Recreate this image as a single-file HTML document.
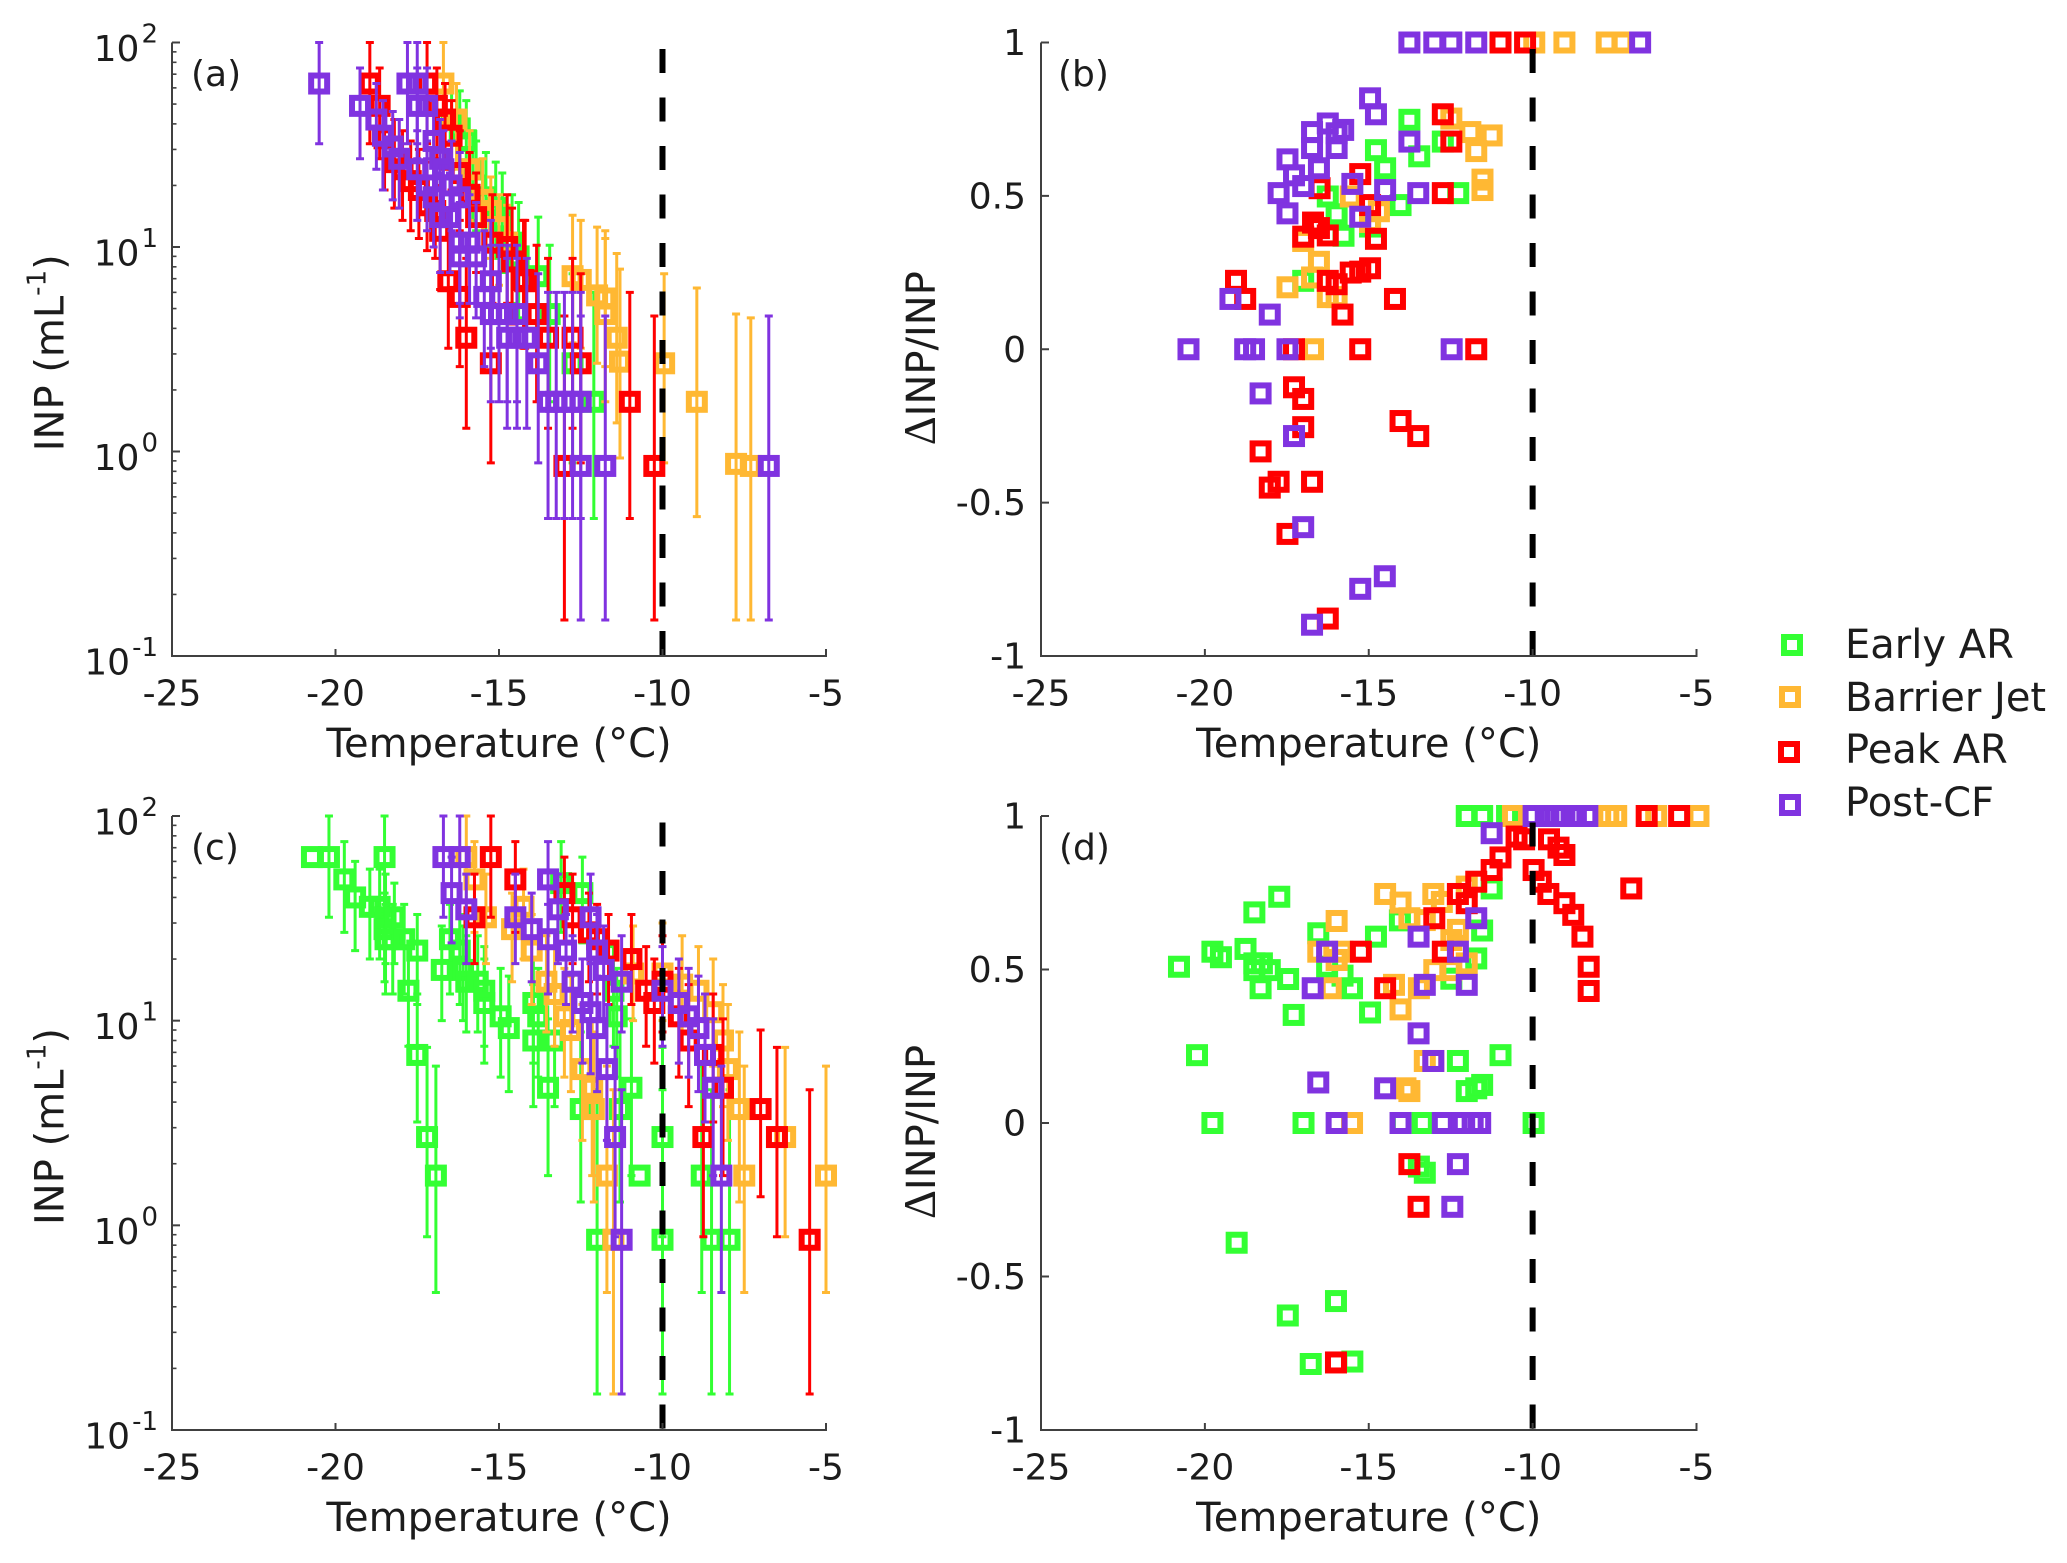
<!DOCTYPE html>
<html lang="en">
<head>
<meta charset="utf-8">
<title>INP versus temperature</title>
<style>
html,body{margin:0;padding:0;background:#fff;}
body{width:2067px;height:1563px;overflow:hidden;}
svg{display:block;}
text{font-family:"DejaVu Sans","Liberation Sans",sans-serif;fill:#1c1c1c;}
</style>
</head>
<body>
<svg id="chart" xmlns="http://www.w3.org/2000/svg" width="2067" height="1563" viewBox="0 0 2067 1563"></svg>
<script>
/* ---------- shared axis data ---------- */
const xTickValues = [-25, -20, -15, -10, -5];
const logTickExponents = [-1, 0, 1, 2];
const logMinorMultipliers = [2, 3, 4, 5, 6, 7, 8, 9];
const ratioTickValues = [-1, -0.5, 0, 0.5, 1];
const ratioTickLabels = ['-1', '-0.5', '0', '0.5', '1'];
const thresholdTemp = [-10];
const seriesNames = ['Early AR', 'Barrier Jet', 'Peak AR', 'Post-CF'];

/* ---------- panel (a) ---------- */
const aEarlyTemp = [-16.45,-16.2,-16,-15.8,-15.7,-15.4,-15.1,-14.9,-14.6,-14.4,-13.8,-13.45,-12.75,-12.1];
const aEarlyInp = [42,38,33,24,20,17.5,15.5,13.5,10.5,9,7.2,4.7,2.7,1.75];
const aEarlyLow = [24,21,19,13.5,12,10,8.8,7.5,5.3,4.5,3.4,1.75,.88,.47];
const aEarlyHigh = [63,58,52,37,33,29,26,23,18,16.5,14,10.2,7.4,6];

const aJetTemp = [-16.7,-16.3,-15.9,-15.5,-15.25,-15,-14.75,-12.75,-12.5,-12,-11.75,-11.75,-11.4,-11.3,-9.95,-8.95,-7.75,-7.3];
const aJetInp = [63,42,24,17,15,12.5,10.5,7.2,6.9,5.8,5.6,4.7,3.6,2.75,2.7,1.75,.87,.85];
const aJetLow = [32,24,13.5,10,8.8,6.5,5.3,3.4,3.2,2.7,2.6,1.75,1.38,.93,.88,.48,.15,.15];
const aJetHigh = [100,63,37,27,22,18,16,14.3,13.5,12.5,12,11,9.3,7.8,7.4,6.3,4.7,4.5];

const aPeakTemp = [-18.95,-18.65,-18.5,-18.2,-17.95,-17.7,-17.45,-17.2,-17.2,-16.95,-16.9,-16.65,-16.45,-16.2,-15.9,-15.7,-16.8,-16.55,-16.2,-16,-15.25,-15.2,-14.75,-14.6,-14.25,-14.2,-13.85,-13.5,-12.75,-12.5,-11,-13,-10.25];
const aPeakInp = [63,49,34,26,24,21,19,63,16,15,49,42,35,23,18,14,12,6.8,5.7,3.6,2.7,10.5,10,8.5,6.9,6.8,4.7,3.6,3.6,2.7,1.75,.85,.85];
const aPeakLow = [32,27,19,15.5,13.5,12,11,32,9.6,8.8,27,24,19,13.5,10,7.5,6.2,3.2,2.6,1.3,.88,5.3,5.3,4.2,3.2,3.2,1.75,1.3,1.3,.88,.47,.15,.15];
const aPeakHigh = [100,75,52,42,37,33,30,100,26,25,75,63,52,37,29,23,20,13.5,12,8.8,7.4,18,18,15.5,13.5,13.5,10.2,8.8,8.8,7.4,6,4.6,4.6];

const aPostTemp = [-20.5,-19.25,-18.75,-18.55,-18.25,-18.05,-17.8,-17.5,-17.5,-17.5,-17.2,-17.2,-17,-17,-16.8,-16.7,-16.8,-16.5,-16.45,-16.2,-16.2,-16.2,-15.9,-15.7,-15.25,-15.45,-15.25,-15,-14.75,-14.45,-14.75,-14.45,-14.15,-13.8,-13.5,-13.25,-13,-12.75,-12.5,-12.5,-11.75,-6.75];
const aPostInp = [63,49,42,35,31,27,63,63,49,24,49,20,33,17.5,27,24,14,14,20,17.5,10.5,9,10.5,9,6.8,5.7,4.7,4.7,4.7,4.7,3.6,3.6,3.6,2.7,1.75,1.75,1.75,1.75,1.75,.85,.85,.85];
const aPostLow = [32,27,24,19,17,15.5,32,32,27,13.5,27,12,19,10,15.5,13.5,7.5,7.5,12,10,5.3,4.5,5.3,4.5,3.2,2.6,1.75,1.75,1.75,1.75,1.3,1.3,1.3,.88,.47,.47,.47,.47,.47,.15,.15,.15];
const aPostHigh = [100,75,63,52,46,42,100,100,75,37,75,33,52,29,42,37,23,23,33,29,18,16.5,18,16.5,13.5,12,10.2,10.2,10.2,10.2,8.8,8.8,8.8,7.4,6,6,6,6,6,4.6,4.6,4.6];

/* ---------- panel (c) ---------- */
const cEarlyTemp = [-20.72,-20.2,-19.73,-19.4,-18.95,-18.65,-18.5,-18.47,-18.2,-18.5,-18.47,-18.25,-17.9,-17.5,-17.77,-17.5,-17.2,-16.93,-16.75,-16.5,-16.2,-16.1,-16,-15.65,-15.45,-15.45,-14.95,-14.7,-13.95,-13.95,-13.8,-13.5,-13.3,-13.1,-12.5,-12.45,-12,-11.5,-11.4,-11.3,-10.95,-10.7,-10,-10,-8.8,-8.5,-7.95];
const cEarlyInp = [63,63,49,40,36,36,63,32,32,28,25,25,25,22,14,6.8,2.7,1.75,17.7,25,22,17.7,15.5,15.5,14,12.2,10.5,9.2,12.2,8,10.5,4.7,8,47,3.7,42,.85,14,10.5,3.7,4.7,1.75,2.7,.85,1.75,.85,.85];
const cEarlyLow = [63,32,27,22,20,20,32,19,19,15.5,13.5,13.5,13.5,12,7.5,3.2,.88,.47,10,13.5,12,10,8.8,8.8,7.5,6.2,5.3,4.5,6.2,3.8,5.3,1.75,3.8,27,1.3,24,.15,7.5,5.3,1.3,1.75,1.75,.88,.15,.47,.15,.15];
const cEarlyHigh = [63,100,75,60,55,55,100,52,47,42,37,37,37,33,23,13.5,7.4,6,29,37,33,29,26,26,23,20,18,16.5,20,15,18,10.2,15,75,8.8,63,4.6,23,18,8.8,10.2,1.75,7.4,4.6,6,4.6,4.6];

const cJetTemp = [-16,-15.75,-15.4,-14.6,-14.25,-14,-13.55,-13.3,-13,-12.8,-12.45,-12.15,-12.1,-11.7,-11.5,-10.9,-10,-9.4,-8.9,-8.45,-8.15,-8,-7.65,-7.5,-6.25,-5];
const cJetInp = [63,49,32,28,36,22,15.5,13.5,10.5,9,5.8,4.7,3.7,1.75,.85,17,17,15,14,11,8,5.8,3.7,1.75,2.7,1.75];
const cJetLow = [32,27,19,15.5,20,12,8.8,7.5,5.3,4.5,2.6,1.75,1.3,.47,.15,10,10,8.8,7.5,6,3.8,2.6,1.3,.47,.88,.47];
const cJetHigh = [100,75,52,42,55,33,26,23,18,16.5,12,10.2,8.8,6,4.6,29,30,26,23,20,15,12,8.8,6,7.4,6];

const cPeakTemp = [-15.25,-14.5,-13,-15.75,-12.75,-12.25,-12,-11.65,-10.95,-10.5,-10.25,-10,-9.5,-9.2,-8.45,-8.15,-8.75,-7,-6.5,-5.5];
const cPeakInp = [63,49,42,32,32,27,25,22,20,14,12.2,15.5,10.5,8,6.8,4.7,2.7,3.7,2.7,.85];
const cPeakLow = [32,27,24,19,19,15.5,13.5,12,12,7.5,6.2,8.8,5.3,3.8,3.2,1.75,.88,1.38,.88,.15];
const cPeakHigh = [100,75,63,52,52,42,37,33,33,23,20,26,18,15,13.5,10.2,7.4,9,7.4,4.6];

const cPostTemp = [-16.7,-16.2,-16.45,-16,-14.5,-14,-13.5,-13.2,-13.5,-12.95,-12.2,-12.75,-12,-11.8,-11.25,-12.45,-12.2,-12,-11.7,-11.45,-11.25,-10,-9.5,-9.2,-8.9,-8.7,-8.45,-8.2];
const cPostInp = [63,63,42,35,32,28,49,35,25,22,32,15.5,22,17.7,15.5,12.2,11,9.2,5.8,2.7,.85,14,12.2,10.5,9.2,6.8,4.7,1.75];
const cPostLow = [32,32,24,19,19,15.5,27,19,13.5,12,19,8.8,12,10,8.8,6.2,5.5,4.5,2.6,.88,.15,7.5,6.2,5.3,4.5,3.2,1.75,.47];
const cPostHigh = [100,100,63,52,52,42,75,52,37,33,52,26,33,29,26,20,19,16.5,12,7.4,4.6,23,20,18,16.5,13.5,10.2,6];

/* ---------- panel (b) ---------- */
const bEarlyTemp = [-13.76,-12.74,-13.46,-14.78,-14.5,-12.27,-14.03,-16.25,-15.98,-15.77,-14.96,-17];
const bEarlyRatio = [.748,.677,.629,.649,.59,.509,.47,.498,.44,.37,.4,.223];

const bJetTemp = [-9.95,-9.03,-7.74,-7.26,-12.48,-11.9,-11.72,-11.25,-11.53,-11.53,-15.55,-14.69,-14.96,-17,-16.52,-16.73,-17.48,-16.25,-15.98,-16.7];
const bJetRatio = [1,1,1,1,.752,.708,.646,.697,.553,.519,.498,.45,.415,.353,.285,.234,.202,.17,.17,0];

const bPeakTemp = [-10.98,-10.23,-12.74,-12.48,-12.74,-15.26,-16.5,-14.96,-16.7,-17,-16.52,-16.25,-14.78,-19.05,-18.77,-14.96,-15.26,-15.55,-16.25,-15.98,-15.8,-14.2,-17.28,-15.26,-11.72,-17.28,-17,-17,-14.03,-13.49,-18.3,-17.75,-18.02,-16.73,-17.48,-16.25];
const bPeakRatio = [1,1,.766,.677,.509,.571,.525,.47,.413,.367,.395,.371,.36,.223,.164,.264,.253,.25,.223,.212,.113,.164,0,0,0,-.124,-.162,-.254,-.234,-.283,-.333,-.432,-.451,-.432,-.602,-.878];

const bPostTemp = [-13.76,-13,-12.48,-11.72,-6.72,-14.96,-14.78,-13.76,-16.25,-16.73,-15.78,-15.98,-16.73,-15.98,-17.48,-16.52,-17.28,-17,-17.75,-15.5,-14.5,-13.49,-17.48,-15.26,-19.22,-18.02,-20.5,-18.77,-18.5,-17.48,-12.47,-18.3,-17.28,-17,-14.51,-15.26,-16.73];
const bPostRatio = [1,1,1,1,1,.818,.766,.677,.736,.708,.715,.704,.656,.656,.619,.59,.567,.532,.509,.539,.519,.509,.443,.432,.164,.113,0,0,0,0,0,-.144,-.283,-.58,-.74,-.781,-.898];

/* ---------- panel (d) ---------- */
const dEarlyTemp = [-12.01,-11.54,-10.78,-17.73,-18.49,-16.54,-14.78,-19.77,-19.51,-18.76,-20.79,-18.49,-18.26,-18.02,-18.49,-17.46,-18.3,-15.51,-16.27,-15.8,-17.29,-14.96,-20.24,-10.98,-12.28,-12.01,-11.72,-11.54,-19.77,-16.99,-14.02,-13.35,-9.97,-13.47,-13.29,-11.54,-11.25,-11.72,-14.05,-12.48,-19.03,-17.47,-16,-16.77,-15.5];
const dEarlyRatio = [1,1,1,.737,.686,.618,.607,.558,.54,.567,.509,.52,.52,.498,.498,.469,.439,.439,.509,.48,.352,.36,.221,.221,.202,.104,.113,.124,0,0,0,0,0,-.142,-.162,.627,.764,.536,.66,.47,-.39,-.627,-.58,-.785,-.777];

const dJetTemp = [-10.6,-7.69,-7.45,-6.23,-4.94,-14.5,-14.03,-13.03,-12.77,-12.01,-13.76,-13.29,-15.98,-12.28,-12.48,-16.54,-15.8,-15.98,-13,-12.48,-12.01,-14.23,-13.47,-16.16,-14.03,-13.29,-13.03,-13.88,-13.76,-15.51];
const dJetRatio = [1,1,1,1,1,.746,.718,.746,.72,.77,.667,.661,.658,.629,.596,.558,.558,.531,.498,.498,.52,.45,.439,.439,.37,.202,.202,.113,.104,0];

const dPeakTemp = [-6.52,-5.53,-10.49,-10.26,-9.5,-9.21,-9.03,-10.98,-11.25,-9.97,-11.72,-9.75,-12.28,-9.52,-12.01,-9.03,-8.76,-13,-8.48,-6.99,-8.29,-8.29,-15.24,-12.74,-14.5,-13.76,-13.48,-16];
const dPeakRatio = [1,1,.933,.924,.924,.897,.873,.865,.824,.824,.786,.786,.746,.746,.716,.716,.678,.667,.607,.764,.509,.43,.558,.558,.439,-.134,-.273,-.78];

const dPostTemp = [-9.97,-9.6,-9.3,-9.03,-8.68,-8.33,-11.25,-11.72,-13.48,-16.27,-12.28,-13.29,-12.01,-16.71,-13.48,-13.03,-16.54,-14.5,-15.98,-14.03,-12.74,-12.13,-11.83,-11.6,-12.28,-12.45];
const dPostRatio = [1,1,1,1,1,1,.944,.667,.607,.558,.558,.45,.45,.439,.292,.202,.132,.113,0,0,0,0,0,0,-.134,-.273];

/* ---------- rendering ---------- */
const svg = document.getElementById('chart');
const NS = 'http://www.w3.org/2000/svg';
const COLORS = ['#33ff33', '#ffb833', '#ff0000', '#8033e0'];
const AXIS = '#404040';

function mk(parent, tag, attrs, txt) {
  const el = document.createElementNS(NS, tag);
  for (const k in attrs) el.setAttribute(k, attrs[k]);
  if (txt !== undefined) el.textContent = txt;
  parent.appendChild(el);
  return el;
}
function xOf(p, t) { return p.left + (t + 25) * (p.right - p.left) / 20; }
function yLog(p, v) { return p.bottom - (Math.log10(v) + 1) * (p.bottom - p.top) / 3; }
function yRatio(p, v) { return p.bottom - (v + 1) * (p.bottom - p.top) / 2; }

function drawAxes(p, g) {
  const axisY = mk(g, 'line', {x1: p.left, x2: p.left, y1: p.top, y2: p.bottom, stroke: AXIS, 'stroke-width': 2});
  
  
  const axisX = mk(g, 'line', {x1: p.left - 1, x2: p.right + 1, y1: p.bottom, y2: p.bottom, stroke: AXIS, 'stroke-width': 2});
  
  

  xTickValues.forEach(function (t) {
    const x = xOf(p, t);
    const tick = mk(g, 'line', {x1: x, x2: x, y1: p.bottom, y2: p.bottom - 7, stroke: AXIS, 'stroke-width': 2});
    
    
    const label = mk(g, 'text', {x: x, y: p.bottom + 49.5, 'text-anchor': 'middle', 'font-size': 36}, String(t));
    
    
  });

  const xt = mk(g, 'text', {x: (p.left + p.right) / 2, y: p.bottom + 101, 'text-anchor': 'middle', 'font-size': 40}, 'Temperature (°C)');
  
  

  if (p.log) {
    logTickExponents.forEach(function (e) {
      const y = yLog(p, Math.pow(10, e));
      const tick = mk(g, 'line', {x1: p.left, x2: p.left + 8, y1: y, y2: y, stroke: AXIS, 'stroke-width': 2});
      
      
      const label = mk(g, 'text', {x: p.left - 14, y: y + 18.5, 'text-anchor': 'end', 'font-size': 36});
      
      
      mk(label, 'tspan', {}, '10');
      mk(label, 'tspan', {dy: -18.5, dx: 2, 'font-size': 26}, String(e));
      if (e < 2) {
        logMinorMultipliers.forEach(function (m) {
          const ym = yLog(p, m * Math.pow(10, e));
          const minor = mk(g, 'line', {x1: p.left, x2: p.left + 4.5, y1: ym, y2: ym, stroke: AXIS, 'stroke-width': 1.6});
          
          
        });
      }
    });
    const yt = mk(g, 'text', {transform: 'translate(' + (p.left - 108.7) + ',' + ((p.top + p.bottom) / 2 + 3.5) + ') rotate(-90)', 'text-anchor': 'middle', 'font-size': 40});
    
    
    mk(yt, 'tspan', {}, 'INP (mL');
    mk(yt, 'tspan', {dy: -18, 'font-size': 26}, '-1');
    mk(yt, 'tspan', {dy: 18}, ')');
  } else {
    ratioTickValues.forEach(function (v, i) {
      const y = yRatio(p, v);
      const tick = mk(g, 'line', {x1: p.left, x2: p.left + 8, y1: y, y2: y, stroke: AXIS, 'stroke-width': 2});
      
      
      const label = mk(g, 'text', {x: p.left - 15, y: y + 12.5, 'text-anchor': 'end', 'font-size': 36}, ratioTickLabels[i]);
      
      
    });
    const yt = mk(g, 'text', {transform: 'translate(' + (p.left - 106) + ',' + ((p.top + p.bottom) / 2 + 9) + ') rotate(-90)', 'text-anchor': 'middle', 'font-size': 40});
    
    
    mk(yt, 'tspan', {'font-family': '"Liberation Serif", serif', 'font-size': 45}, 'Δ');
    mk(yt, 'tspan', {}, 'INP/INP');
  }

  const tag = mk(g, 'text', {x: p.left + p.tagDx, y: p.top + 43.5, 'font-size': 36}, p.tag);
  
  
}

function drawMarker(g, x, y, color) {
  const m = mk(g, 'rect', {x: x - 8, y: y - 8, width: 16, height: 16, fill: 'none', stroke: color, 'stroke-width': 6});
  
  
}

function drawErrorBar(g, x, yLow, yHigh, color) {
  if (Math.abs(yLow - yHigh) < 1) return;
  const bar = mk(g, 'path', {
    d: 'M' + x + ' ' + yLow + 'V' + yHigh + 'M' + (x - 4) + ' ' + yLow + 'H' + (x + 4) + 'M' + (x - 4) + ' ' + yHigh + 'H' + (x + 4),
    fill: 'none', stroke: color, 'stroke-width': 3
  });
  
  
}

function drawLogSeries(p, g, idx, temps, values, lows, highs) {
  const s = mk(g, 'g', {});
  
  
  temps.forEach(function (t, i) {
    const x = xOf(p, t);
    drawErrorBar(s, x, yLog(p, lows[i]), yLog(p, highs[i]), COLORS[idx]);
    drawMarker(s, x, yLog(p, values[i]), COLORS[idx]);
  });
}

function drawRatioSeries(p, g, idx, temps, values) {
  const s = mk(g, 'g', {});
  
  
  temps.forEach(function (t, i) {
    drawMarker(s, xOf(p, t), yRatio(p, values[i]), COLORS[idx]);
  });
}

function drawThreshold(p, g) {
  const x = xOf(p, thresholdTemp[0]);
  const l = mk(g, 'line', {x1: x, x2: x, y1: p.top + 6.5, y2: p.bottom, stroke: '#000', 'stroke-width': 6, 'stroke-dasharray': '24 24.5'});
  
  
}

const panelA = {left: 172, right: 826, top: 42.5, bottom: 656, log: true, tag: '(a)', tagDx: 19};
const panelB = {left: 1041, right: 1696.5, top: 42.5, bottom: 656, log: false, tag: '(b)', tagDx: 17};
const panelC = {left: 172, right: 826, top: 816, bottom: 1430, log: true, tag: '(c)', tagDx: 19};
const panelD = {left: 1041, right: 1696.5, top: 816, bottom: 1430, log: false, tag: '(d)', tagDx: 18};

function panelGroup(name) {
  const g = mk(svg, 'g', {});
  
  
  return g;
}

const gA = panelGroup('panel-a');
drawLogSeries(panelA, gA, 0, aEarlyTemp, aEarlyInp, aEarlyLow, aEarlyHigh);
drawLogSeries(panelA, gA, 1, aJetTemp, aJetInp, aJetLow, aJetHigh);
drawLogSeries(panelA, gA, 2, aPeakTemp, aPeakInp, aPeakLow, aPeakHigh);
drawLogSeries(panelA, gA, 3, aPostTemp, aPostInp, aPostLow, aPostHigh);
drawThreshold(panelA, gA);
drawAxes(panelA, gA);

const gB = panelGroup('panel-b');
drawRatioSeries(panelB, gB, 0, bEarlyTemp, bEarlyRatio);
drawRatioSeries(panelB, gB, 1, bJetTemp, bJetRatio);
drawRatioSeries(panelB, gB, 2, bPeakTemp, bPeakRatio);
drawRatioSeries(panelB, gB, 3, bPostTemp, bPostRatio);
drawThreshold(panelB, gB);
drawAxes(panelB, gB);

const gC = panelGroup('panel-c');
drawLogSeries(panelC, gC, 0, cEarlyTemp, cEarlyInp, cEarlyLow, cEarlyHigh);
drawLogSeries(panelC, gC, 1, cJetTemp, cJetInp, cJetLow, cJetHigh);
drawLogSeries(panelC, gC, 2, cPeakTemp, cPeakInp, cPeakLow, cPeakHigh);
drawLogSeries(panelC, gC, 3, cPostTemp, cPostInp, cPostLow, cPostHigh);
drawThreshold(panelC, gC);
drawAxes(panelC, gC);

const gD = panelGroup('panel-d');
drawRatioSeries(panelD, gD, 0, dEarlyTemp, dEarlyRatio);
drawRatioSeries(panelD, gD, 1, dJetTemp, dJetRatio);
drawRatioSeries(panelD, gD, 2, dPeakTemp, dPeakRatio);
drawRatioSeries(panelD, gD, 3, dPostTemp, dPostRatio);
drawThreshold(panelD, gD);
drawAxes(panelD, gD);

/* legend */
const legendGroup = panelGroup('legend');
const legendSwatchX = [1792, 1790, 1789, 1790];
const legendSwatchY = [645, 697, 752, 805];
const legendTextY = [658, 711, 763, 816];
seriesNames.forEach(function (name, i) {
  drawMarker(legendGroup, legendSwatchX[i], legendSwatchY[i], COLORS[i]);
  const t = mk(legendGroup, 'text', {x: 1845, y: legendTextY[i], 'font-size': 40}, name);
  
  
});
</script>
</body>
</html>
